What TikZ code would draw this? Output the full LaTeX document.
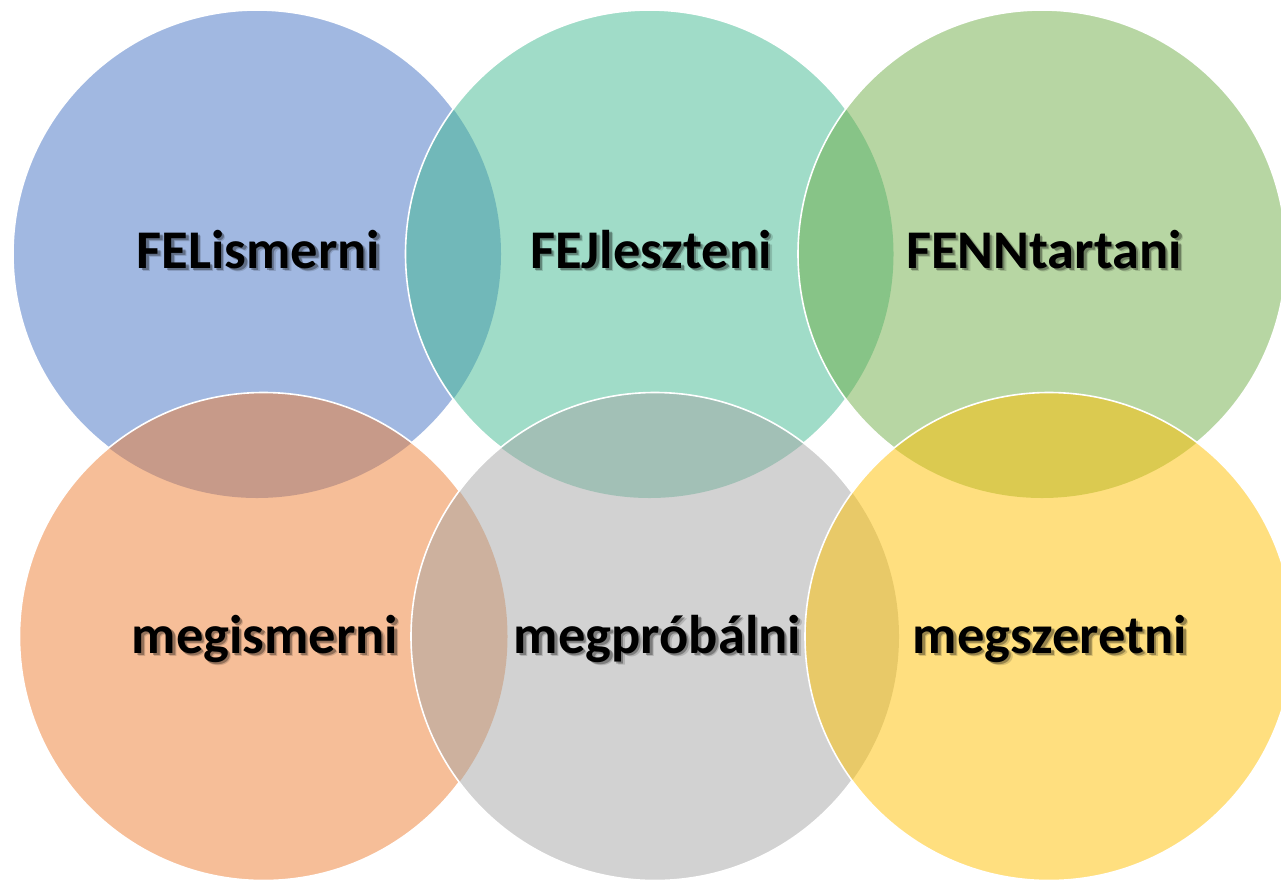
\documentclass[tikz,border=0pt]{standalone}
\usepackage{fontspec}
\setmainfont{Carlito}
\definecolor{cblue}{HTML}{4472C4}
\definecolor{cmint}{HTML}{41B991}
\definecolor{cgreen}{HTML}{70AD47}
\definecolor{corange}{HTML}{ED7D31}
\definecolor{cgray}{HTML}{A5A5A5}
\definecolor{cyellow}{HTML}{FFC000}
% text with a soft drop shadow, set in one box
\newcommand\shadowword[1]{%
  \rlap{\hspace{3.5pt}\raisebox{-3.5pt}{\pgfsetfillopacity{0.15}#1}}%
  \rlap{\hspace{2.3pt}\raisebox{-2.3pt}{\pgfsetfillopacity{0.3}#1}}%
  \pgfsetfillopacity{1}#1}
\begin{document}
\begin{tikzpicture}[x=1pt,y=-1pt,
  disc/.style={fill=#1, fill opacity=0.5, draw=none},
  rim/.style={draw=white, line width=1.6pt},
  word/.style={font=\bfseries\fontsize{54.5}{62}\selectfont, text=black, anchor=base, inner sep=0pt}]
\useasboundingbox (0,0) rectangle (1281,881);
\clip (0,0) rectangle (1281,881);
\def\R{244}
\coordinate (p1) at (257,254);
\coordinate (p2) at (649.5,254);
\coordinate (p3) at (1042,254);
\coordinate (p4) at (263.5,636.5);
\coordinate (p5) at (655,636.5);
\coordinate (p6) at (1049,636.5);
% fills
\fill[disc=cblue] (p1) circle (\R);
\fill[disc=cmint] (p2) circle (\R);
\fill[disc=cgreen] (p3) circle (\R);
\fill[disc=corange] (p4) circle (\R);
\fill[disc=cgray] (p5) circle (\R);
\fill[disc=cyellow] (p6) circle (\R);
% rims, hidden where a later circle lies over them
\begin{scope}[even odd rule]
  \clip (-100,-100) rectangle (1400,1000) (p2) circle (\R) (p4) circle (\R);
  \draw[rim] (p1) circle (\R);
\end{scope}
\begin{scope}[even odd rule]
  \clip (-100,-100) rectangle (1400,1000) (p3) circle (\R) (p5) circle (\R);
  \draw[rim] (p2) circle (\R);
\end{scope}
\begin{scope}[even odd rule]
  \clip (-100,-100) rectangle (1400,1000) (p6) circle (\R);
  \draw[rim] (p3) circle (\R);
\end{scope}
\begin{scope}[even odd rule]
  \clip (-100,-100) rectangle (1400,1000) (p5) circle (\R);
  \draw[rim] (p4) circle (\R);
\end{scope}
\begin{scope}[even odd rule]
  \clip (-100,-100) rectangle (1400,1000) (p6) circle (\R);
  \draw[rim] (p5) circle (\R);
\end{scope}
\draw[rim] (p6) circle (\R);
% labels
\node[word] (t1) at (258.5,268) {\shadowword{FELismerni}};
\node[word] (t2) at (651,268) {\shadowword{FEJleszteni}};
\node[word] (t3) at (1044,268) {\shadowword{FENNtartani}};
\node[word] (t4) at (265,653) {\shadowword{megismerni}};
\node[word] (t5) at (657.5,653) {\shadowword{megpróbálni}};
\node[word] (t6) at (1050,653) {\shadowword{megszeretni}};
\end{tikzpicture}
\end{document}
